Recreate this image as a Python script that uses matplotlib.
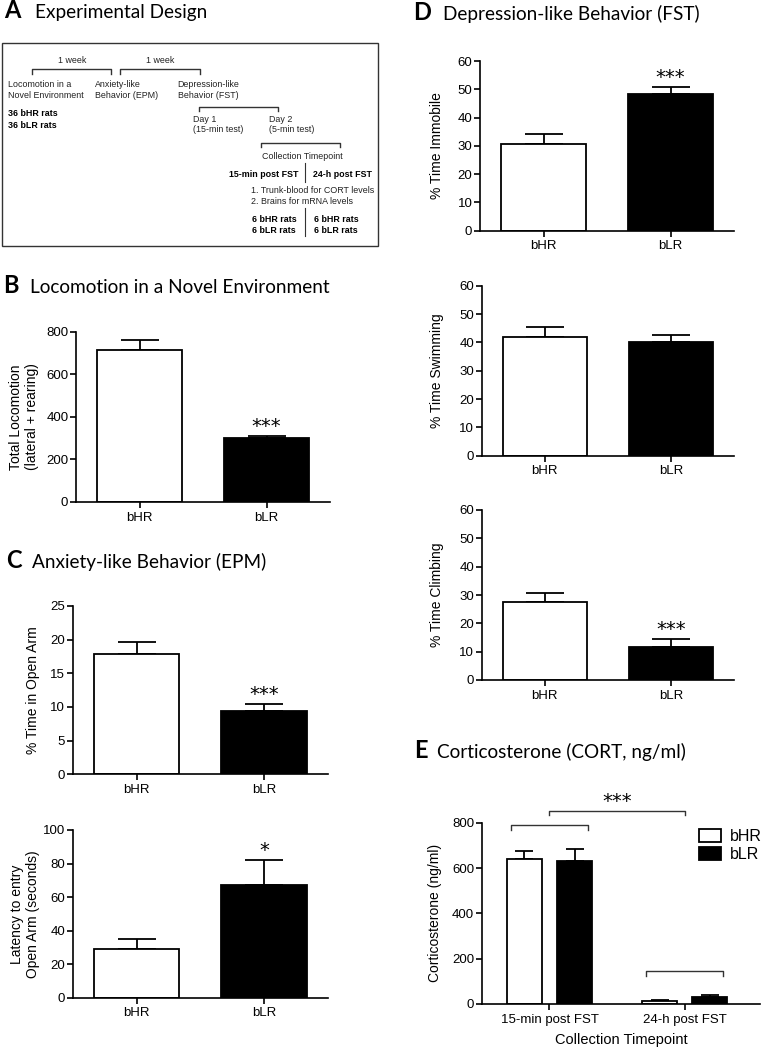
import matplotlib
matplotlib.use('Agg')
import matplotlib.pyplot as plt
import matplotlib.transforms as mtransforms
from matplotlib.patches import Rectangle
import numpy as np

# datos
grupos = ['bHR', 'bLR']
locomocion_media = [714, 299]
locomocion_sem = [47, 12]
locomocion_sig = ['', '***']
brazo_abierto_media = [17.8, 9.4]
brazo_abierto_sem = [1.8, 1.1]
brazo_abierto_sig = ['', '***']
latencia_media = [29.0, 67.4]
latencia_sem = [6.2, 14.9]
latencia_sig = ['', '*']
inmovil_media = [30.5, 48.2]
inmovil_sem = [3.8, 2.5]
inmovil_sig = ['', '***']
nado_media = [42.0, 40.2]
nado_sem = [3.3, 2.4]
nado_sig = ['', '']
trepar_media = [27.5, 11.8]
trepar_sem = [3.3, 2.6]
trepar_sig = ['', '***']
tiempos = ['15-min post FST', '24-h post FST']
cort_bhr_media = [641, 15]
cort_bhr_sem = [35, 3]
cort_blr_media = [629, 30]
cort_blr_sem = [55, 9]

W, H = 761, 1050
plt.rcParams['font.family'] = 'Liberation Sans'
fig = plt.figure(figsize=(W / 100, H / 100), dpi=100)

# capa para textos y esquema (coordenadas en pixeles)
capa = fig.add_axes([0, 0, 1, 1])
capa.set_xlim(0, W)
capa.set_ylim(H, 0)
capa.axis('off')


def add_ax(x0, y0, x1, y1):
    return fig.add_axes([x0 / W, 1 - y1 / H, (x1 - x0) / W, (y1 - y0) / H])


def estilo(ax, ymax, ystep):
    for s in ['top', 'right']:
        ax.spines[s].set_visible(False)
    for s in ['left', 'bottom']:
        ax.spines[s].set_linewidth(1.2)
    ax.set_ylim(0, ymax)
    ax.set_yticks(np.arange(0, ymax + ystep / 2, ystep))
    ax.tick_params(axis='both', direction='out', length=4, width=1.2, labelsize=9.5)
    ax.tick_params(axis='y', pad=1.5)
    ax.tick_params(axis='x', pad=3)


def etiqueta_y(ax, texto, xpx):
    ax.set_ylabel(texto, fontsize=10, linespacing=1.15)
    trans = mtransforms.blended_transform_factory(fig.transFigure, ax.transAxes)
    ax.yaxis.set_label_coords(xpx / W, 0.5, transform=trans)


def graficarBarras(caja, medias, sems, sig, ymax, ystep, ylabel, xlabel_px):
    ax = add_ax(*caja)
    x = np.arange(len(grupos))
    ax.bar(x, medias, width=0.67, color=['white', 'black'], edgecolor='black',
           linewidth=1.3, zorder=2)
    ax.errorbar(x, medias, yerr=[np.zeros(len(x)), sems], fmt='none', ecolor='black',
                elinewidth=1.3, capsize=14, capthick=1.3, zorder=1)
    ax.set_xlim(-0.5, 1.5)
    ax.set_xticks(x, grupos)
    estilo(ax, ymax, ystep)
    etiqueta_y(ax, ylabel, xlabel_px)
    for i, s in enumerate(sig):
        if s:
            ax.annotate(s, (x[i], medias[i] + sems[i]), xytext=(0, 0),
                        textcoords='offset points', ha='center', va='bottom',
                        fontsize=14, family='DejaVu Sans', annotation_clip=False)
    return ax


def corchete(ax, x0, x1, y, caida):
    ax.plot([x0, x0, x1, x1], [y - caida, y, y, y - caida], color='#333333',
            lw=1.0, clip_on=False)


# titulos de paneles
titulos = [('A', 'Experimental Design', 4, 35, 18),
           ('B', 'Locomotion in a Novel Environment', 3, 30, 293),
           ('C', 'Anxiety-like Behavior (EPM)', 6, 32, 568),
           ('D', 'Depression-like Behavior (FST)', 413, 443, 20),
           ('E', 'Corticosterone (CORT, ng/ml)', 414, 437, 758)]
for letra, texto, xl, xt, yb in titulos:
    capa.text(xl, yb, letra, fontsize=17, fontweight='bold', family='Lato', va='baseline')
    capa.text(xt, yb, texto, fontsize=13.7, family='Lato', va='baseline')

# panel A: esquema experimental
capa.add_patch(Rectangle((2, 43), 376, 203, fill=False, edgecolor='#333333', lw=1.0))
fs = 6.4
gris = '#222222'
corchete(capa, 31.7, 111, 69.3, -4.5)
corchete(capa, 120, 200, 69.3, -4.5)
corchete(capa, 199, 278.3, 106.7, -4)
corchete(capa, 261, 340, 142.7, -4)
capa.text(71.7, 60.7, '1 week', fontsize=fs, ha='center', va='center', color=gris)
capa.text(160, 60.7, '1 week', fontsize=fs, ha='center', va='center', color=gris)
capa.text(8.3, 84.3, 'Locomotion in a', fontsize=fs, va='center', color=gris)
capa.text(8.3, 95.7, 'Novel Environment', fontsize=fs, va='center', color=gris)
capa.text(95, 84.3, 'Anxiety-like', fontsize=fs, va='center', color=gris)
capa.text(95, 95.7, 'Behavior (EPM)', fontsize=fs, va='center', color=gris)
capa.text(177.7, 84.3, 'Depression-like', fontsize=fs, va='center', color=gris)
capa.text(177.7, 95.7, 'Behavior (FST)', fontsize=fs, va='center', color=gris)
capa.text(8.3, 114, '36 bHR rats', fontsize=fs, fontweight='bold', va='center')
capa.text(8.3, 125.3, '36 bLR rats', fontsize=fs, fontweight='bold', va='center')
capa.text(192.7, 119, 'Day 1', fontsize=fs, va='center', color=gris)
capa.text(192.7, 130, '(15-min test)', fontsize=fs, va='center', color=gris)
capa.text(268.7, 119, 'Day 2', fontsize=fs, va='center', color=gris)
capa.text(268.7, 130, '(5-min test)', fontsize=fs, va='center', color=gris)
capa.text(302.7, 156.7, 'Collection Timepoint', fontsize=fs, ha='center', va='center', color=gris)
capa.plot([305.3, 305.3], [163, 181.7], color='#333333', lw=0.8)
capa.text(298.3, 174.3, '15-min post FST', fontsize=fs, fontweight='bold', ha='right', va='center')
capa.text(313.3, 174.3, '24-h post FST', fontsize=fs, fontweight='bold', va='center')
capa.text(250.7, 190.7, '1. Trunk-blood for CORT levels', fontsize=fs, va='center', color=gris)
capa.text(250.7, 201.3, '2. Brains for mRNA levels', fontsize=fs, va='center', color=gris)
capa.plot([305.3, 305.3], [208.3, 235.7], color='#333333', lw=0.8)
capa.text(252.3, 220, '6 bHR rats', fontsize=fs, fontweight='bold', va='center')
capa.text(252.3, 230.7, '6 bLR rats', fontsize=fs, fontweight='bold', va='center')
capa.text(314, 220, '6 bHR rats', fontsize=fs, fontweight='bold', va='center')
capa.text(314, 230.7, '6 bLR rats', fontsize=fs, fontweight='bold', va='center')

# paneles B, C, D
graficarBarras((76, 331.7, 330, 502), locomocion_media, locomocion_sem, locomocion_sig,
               800, 200, 'Total Locomotion\n(lateral + rearing)', 39)
graficarBarras((72.7, 606, 328, 774.3), brazo_abierto_media, brazo_abierto_sem,
               brazo_abierto_sig, 25, 5, '% Time in Open Arm', 40)
graficarBarras((72.7, 830, 328, 997.7), latencia_media, latencia_sem, latencia_sig,
               100, 20, 'Latency to entry\nOpen Arm (seconds)', 40)
graficarBarras((480, 61, 734, 230.7), inmovil_media, inmovil_sem, inmovil_sig,
               60, 10, '% Time Immobile', 444)
graficarBarras((481.7, 285.7, 734, 455.7), nado_media, nado_sem, nado_sig,
               60, 10, '% Time Swimming', 444)
graficarBarras((481.7, 510, 734, 680), trepar_media, trepar_sem, trepar_sig,
               60, 10, '% Time Climbing', 444)

# panel E
ax_e = add_ax(481.7, 822.7, 760, 1004)
xe = np.arange(len(tiempos))
off, ancho = 0.186, 0.259
ax_e.bar(xe - off, cort_bhr_media, ancho, color='white', edgecolor='black', linewidth=1.3,
         label='bHR', zorder=2)
ax_e.bar(xe + off, cort_blr_media, ancho, color='black', edgecolor='black', linewidth=1.3,
         label='bLR', zorder=2)
ax_e.errorbar(xe - off, cort_bhr_media, yerr=[np.zeros(2), cort_bhr_sem], fmt='none',
              ecolor='black', elinewidth=1.3, capsize=6.6, capthick=1.3, zorder=1)
ax_e.errorbar(xe + off, cort_blr_media, yerr=[np.zeros(2), cort_blr_sem], fmt='none',
              ecolor='black', elinewidth=1.3, capsize=6.6, capthick=1.3, zorder=1)
ax_e.set_xlim(-0.501, 1.556)
ax_e.set_xticks(xe, tiempos)
estilo(ax_e, 800, 200)
etiqueta_y(ax_e, 'Corticosterone (ng/ml)', 442)
ax_e.set_xlabel('Collection Timepoint', fontsize=10.5, labelpad=5)

topes = [max(a + b, c + d) for a, b, c, d in
         zip(cort_bhr_media, cort_bhr_sem, cort_blr_media, cort_blr_sem)]
alturas = [t + 106 for t in topes]
for i, yb in enumerate(alturas):
    corchete(ax_e, xe[i] - off - 0.097, xe[i] + off + 0.097, yb, 22)
y_sup = max(alturas) + 63
corchete(ax_e, xe[0], xe[1], y_sup, 18)
ax_e.annotate('***', (0.5, y_sup), xytext=(0, 0), textcoords='offset points',
              ha='center', va='bottom', fontsize=14, family='DejaVu Sans',
              annotation_clip=False)

ax_e.legend(loc='upper left', bbox_to_anchor=(698.7 / W, 1 - 829 / H),
            bbox_transform=fig.transFigure, frameon=False, fontsize=11.5,
            handlelength=1.37, handleheight=0.83, handletextpad=0.58,
            borderpad=0, borderaxespad=0, labelspacing=0.2)

fig.savefig('out.png', dpi=100)
